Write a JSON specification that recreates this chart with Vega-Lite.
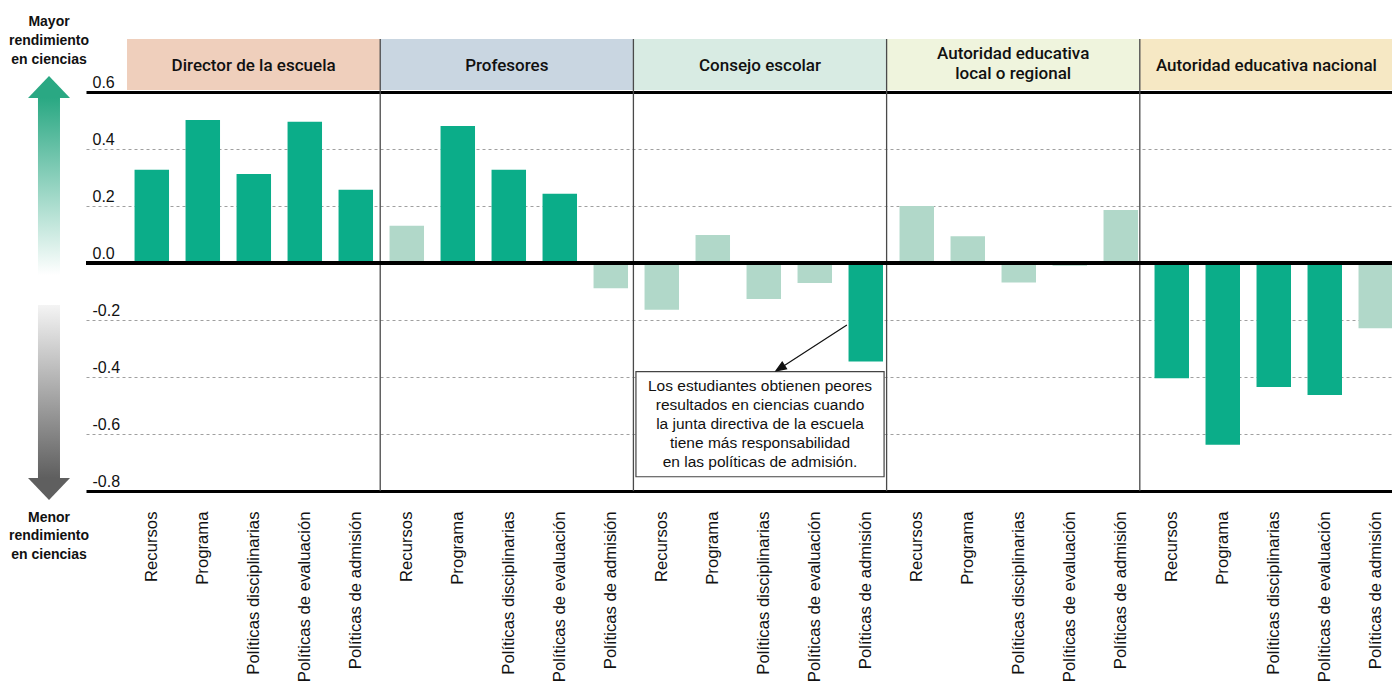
{
  "$schema": "https://vega.github.io/schema/vega-lite/v6.json",
  "autosize": {"type": "pad"},
  "padding": {"left": 1, "top": 14, "right": 0, "bottom": 0},
  "background": "white",
  "config": {"view": {"stroke": null}, "font": "Liberation Sans"},
  "spacing": 0,
  "bounds": "flush",
  "resolve": {"scale": {"x": "independent", "y": "independent"}},
  "hconcat": [
    {
      "width": 85,
      "height": 452,
      "data": {"values": [{"lado": "leyenda"}]},
      "layer": [
        {
          "mark": {"type": "rect", "fill": {"gradient": "linear", "x1": 0, "y1": 0, "x2": 0, "y2": 1, "stops": [{"offset": 0, "color": "#2aa883"}, {"offset": 1, "color": "#ffffff"}]}},
          "encoding": {
            "x": {"datum": 0.435, "type": "quantitative", "scale": {"domain": [0, 1]}, "axis": null},
            "x2": {"datum": 0.694},
            "y": {"datum": 0.579, "type": "quantitative", "scale": {"domain": [-0.8, 0.786], "nice": false, "zero": false}, "axis": null},
            "y2": {"datum": -0.042}
          }
        },
        {
          "mark": {"type": "point", "shape": "M-1,0L1,0L0,-1.05Z", "filled": true, "fill": "#2aa883", "opacity": 1, "strokeWidth": 0},
          "encoding": {
            "x": {"datum": 0.565, "type": "quantitative"},
            "y": {"datum": 0.579, "type": "quantitative"},
            "size": {"value": 1764}
          }
        },
        {
          "mark": {"type": "rect", "fill": {"gradient": "linear", "x1": 0, "y1": 0, "x2": 0, "y2": 1, "stops": [{"offset": 0, "color": "#f4f4f4"}, {"offset": 1, "color": "#5f5f5f"}]}},
          "encoding": {
            "x": {"datum": 0.435, "type": "quantitative"},
            "x2": {"datum": 0.694},
            "y": {"datum": -0.147, "type": "quantitative"},
            "y2": {"datum": -0.754}
          }
        },
        {
          "mark": {"type": "point", "shape": "M-1,0L1,0L0,1.05Z", "filled": true, "fill": "#5f5f5f", "opacity": 1, "strokeWidth": 0},
          "encoding": {
            "x": {"datum": 0.565, "type": "quantitative"},
            "y": {"datum": -0.754, "type": "quantitative"},
            "size": {"value": 1764}
          }
        },
        {
          "mark": {"type": "text", "font": "Liberation Sans", "fontWeight": "bold", "fontSize": 14, "lineHeight": 19, "align": "center", "baseline": "alphabetic", "color": "#111"},
          "encoding": {
            "x": {"datum": 0.565, "type": "quantitative"},
            "y": {"datum": 0.832, "type": "quantitative"},
            "text": {"value": ["Mayor", "rendimiento", "en ciencias"]}
          }
        },
        {
          "mark": {"type": "text", "font": "Liberation Sans", "fontWeight": "bold", "fontSize": 14, "lineHeight": 18.5, "align": "center", "baseline": "alphabetic", "color": "#111"},
          "encoding": {
            "x": {"datum": 0.565, "type": "quantitative"},
            "y": {"datum": -0.908, "type": "quantitative"},
            "text": {"value": ["Menor", "rendimiento", "en ciencias"]}
          }
        }
      ]
    },
    {
      "width": 1307,
      "height": 452,
      "resolve": {"scale": {"x": "independent"}},
      "layer": [
        {
          "layer": [
            {
              "data": {"values": [
                {"panel": "Director de la escuela", "label": "Director de la escuela", "lineas": 1},
                {"panel": "Profesores", "label": "Profesores", "lineas": 1},
                {"panel": "Consejo escolar", "label": "Consejo escolar", "lineas": 1},
                {"panel": "Autoridad educativa local o regional", "label": "Autoridad educativa\nlocal o regional", "lineas": 2},
                {"panel": "Autoridad educativa nacional", "label": "Autoridad educativa nacional", "lineas": 1}
              ]},
              "layer": [
                {
                  "mark": {"type": "rect"},
                  "encoding": {
                    "x": {"field": "panel", "type": "nominal", "sort": null, "scale": {"domain": ["Director de la escuela", "Profesores", "Consejo escolar", "Autoridad educativa local o regional", "Autoridad educativa nacional"], "paddingInner": 0, "paddingOuter": 0.081, "align": 1}, "axis": null},
                    "y": {"datum": 0.786, "type": "quantitative", "scale": {"domain": [-0.8, 0.786], "nice": false, "zero": false}},
                    "y2": {"datum": 0.607},
                    "fill": {"field": "panel", "type": "nominal", "scale": {"domain": ["Director de la escuela", "Profesores", "Consejo escolar", "Autoridad educativa local o regional", "Autoridad educativa nacional"], "range": ["#efcfbc", "#c9d6e1", "#d8ebe3", "#eff4dd", "#f6e8c4"]}, "legend": null}
                  }
                },
                {
                  "transform": [{"filter": "datum.lineas == 1"}],
                  "mark": {"type": "text", "font": "Roboto", "fontWeight": 500, "fontSize": 17, "color": "#111", "align": "center", "baseline": "middle"},
                  "encoding": {
                    "x": {"field": "panel", "type": "nominal"},
                    "y": {"datum": 0.693, "type": "quantitative"},
                    "text": {"field": "label"}
                  }
                },
                {
                  "transform": [{"filter": "datum.lineas == 2"}],
                  "mark": {"type": "text", "font": "Roboto", "fontWeight": 500, "fontSize": 17, "lineHeight": 19.7, "color": "#111", "lineBreak": "\n", "align": "center", "baseline": "middle"},
                  "encoding": {
                    "x": {"field": "panel", "type": "nominal"},
                    "y": {"datum": 0.7334, "type": "quantitative"},
                    "text": {"field": "label"}
                  }
                },
                {
                  "transform": [{"filter": "datum.panel !== 'Director de la escuela'"}],
                  "mark": {"type": "rule", "color": "#4a4a4a", "strokeWidth": 1.3},
                  "encoding": {
                    "x": {"field": "panel", "type": "nominal", "bandPosition": 0},
                    "y": {"datum": 0.786, "type": "quantitative"},
                    "y2": {"datum": -0.8}
                  }
                }
              ]
            },
            {
              "data": {"values": [
                {"panel": "Consejo escolar", "nota": ["Los estudiantes obtienen peores", "resultados en ciencias cuando", "la junta directiva de la escuela", "tiene más responsabilidad", "en las políticas de admisión."]}
              ]},
              "layer": [
                {
                  "mark": {"type": "rect", "fill": "white", "stroke": "#444", "strokeWidth": 1.2, "width": {"band": 0.98}},
                  "encoding": {
                    "x": {"field": "panel", "type": "nominal"},
                    "y": {"datum": -0.381, "type": "quantitative"},
                    "y2": {"datum": -0.75}
                  }
                },
                {
                  "mark": {"type": "text", "font": "Liberation Sans", "fontSize": 15.5, "lineHeight": 19, "color": "#111", "align": "center", "baseline": "middle"},
                  "encoding": {
                    "x": {"field": "panel", "type": "nominal"},
                    "y": {"datum": -0.4316, "type": "quantitative"},
                    "text": {"field": "nota"}
                  }
                },
                {
                  "mark": {"type": "point", "shape": "M0.986,-0.639L-0.986,0.639M-0.986,0.639L-0.691,0.579L-0.811,0.395Z", "filled": true, "fill": "#111", "stroke": "#111", "strokeWidth": 1.2, "opacity": 1},
                  "encoding": {
                    "x": {"field": "panel", "type": "nominal", "bandPosition": 0.703},
                    "y": {"datum": -0.298, "type": "quantitative"},
                    "size": {"value": 5184}
                  }
                }
              ]
            }
          ]
        },
        {
          "data": {"values": [
            {"clave": "Director de la escuela|Recursos", "responsable": "Director de la escuela", "area": "Recursos", "valor": 0.327, "significativo": "sí"},
            {"clave": "Director de la escuela|Programa", "responsable": "Director de la escuela", "area": "Programa", "valor": 0.502, "significativo": "sí"},
            {"clave": "Director de la escuela|Políticas disciplinarias", "responsable": "Director de la escuela", "area": "Políticas disciplinarias", "valor": 0.312, "significativo": "sí"},
            {"clave": "Director de la escuela|Políticas de evaluación", "responsable": "Director de la escuela", "area": "Políticas de evaluación", "valor": 0.496, "significativo": "sí"},
            {"clave": "Director de la escuela|Políticas de admisión", "responsable": "Director de la escuela", "area": "Políticas de admisión", "valor": 0.257, "significativo": "sí"},
            {"clave": "Profesores|Recursos", "responsable": "Profesores", "area": "Recursos", "valor": 0.131, "significativo": "no"},
            {"clave": "Profesores|Programa", "responsable": "Profesores", "area": "Programa", "valor": 0.481, "significativo": "sí"},
            {"clave": "Profesores|Políticas disciplinarias", "responsable": "Profesores", "area": "Políticas disciplinarias", "valor": 0.327, "significativo": "sí"},
            {"clave": "Profesores|Políticas de evaluación", "responsable": "Profesores", "area": "Políticas de evaluación", "valor": 0.243, "significativo": "sí"},
            {"clave": "Profesores|Políticas de admisión", "responsable": "Profesores", "area": "Políticas de admisión", "valor": -0.089, "significativo": "no"},
            {"clave": "Consejo escolar|Recursos", "responsable": "Consejo escolar", "area": "Recursos", "valor": -0.164, "significativo": "no"},
            {"clave": "Consejo escolar|Programa", "responsable": "Consejo escolar", "area": "Programa", "valor": 0.098, "significativo": "no"},
            {"clave": "Consejo escolar|Políticas disciplinarias", "responsable": "Consejo escolar", "area": "Políticas disciplinarias", "valor": -0.126, "significativo": "no"},
            {"clave": "Consejo escolar|Políticas de evaluación", "responsable": "Consejo escolar", "area": "Políticas de evaluación", "valor": -0.070, "significativo": "no"},
            {"clave": "Consejo escolar|Políticas de admisión", "responsable": "Consejo escolar", "area": "Políticas de admisión", "valor": -0.346, "significativo": "sí"},
            {"clave": "Autoridad educativa local o regional|Recursos", "responsable": "Autoridad educativa local o regional", "area": "Recursos", "valor": 0.200, "significativo": "no"},
            {"clave": "Autoridad educativa local o regional|Programa", "responsable": "Autoridad educativa local o regional", "area": "Programa", "valor": 0.094, "significativo": "no"},
            {"clave": "Autoridad educativa local o regional|Políticas disciplinarias", "responsable": "Autoridad educativa local o regional", "area": "Políticas disciplinarias", "valor": -0.068, "significativo": "no"},
            {"clave": "Autoridad educativa local o regional|Políticas de evaluación", "responsable": "Autoridad educativa local o regional", "area": "Políticas de evaluación", "valor": -0.010, "significativo": "no"},
            {"clave": "Autoridad educativa local o regional|Políticas de admisión", "responsable": "Autoridad educativa local o regional", "area": "Políticas de admisión", "valor": 0.186, "significativo": "no"},
            {"clave": "Autoridad educativa nacional|Recursos", "responsable": "Autoridad educativa nacional", "area": "Recursos", "valor": -0.404, "significativo": "sí"},
            {"clave": "Autoridad educativa nacional|Programa", "responsable": "Autoridad educativa nacional", "area": "Programa", "valor": -0.638, "significativo": "sí"},
            {"clave": "Autoridad educativa nacional|Políticas disciplinarias", "responsable": "Autoridad educativa nacional", "area": "Políticas disciplinarias", "valor": -0.435, "significativo": "sí"},
            {"clave": "Autoridad educativa nacional|Políticas de evaluación", "responsable": "Autoridad educativa nacional", "area": "Políticas de evaluación", "valor": -0.463, "significativo": "sí"},
            {"clave": "Autoridad educativa nacional|Políticas de admisión", "responsable": "Autoridad educativa nacional", "area": "Políticas de admisión", "valor": -0.229, "significativo": "no"}
          ]},
          "layer": [
            {
              "mark": {"type": "bar"},
              "encoding": {
                "x": {
                  "field": "clave", "type": "nominal", "sort": null,
                  "scale": {"paddingInner": 0.324, "paddingOuter": 0.476, "align": 1},
                  "axis": {"orient": "bottom", "title": null, "labelExpr": "split(datum.label, '|')[1]", "labelAngle": -90, "labelAlign": "right", "labelBaseline": "middle", "labelPadding": 20, "ticks": false, "domain": false, "labelFontSize": 16.7, "labelFont": "Liberation Sans", "labelColor": "#111", "labelOverlap": false, "labelLimit": 0}
                },
                "y": {
                  "field": "valor", "type": "quantitative",
                  "scale": {"domain": [-0.8, 0.786], "nice": false, "zero": false},
                  "axis": {
                    "title": null,
                    "values": [-0.8, -0.6, -0.4, -0.2, 0, 0.2, 0.4, 0.6],
                    "labelExpr": "replace(format(datum.value, '.1f'), '−', '-')",
                    "domain": false, "ticks": false,
                    "labelAlign": "left", "labelBaseline": "alphabetic", "labelPadding": -6, "labelOffset": -5,
                    "labelFontSize": 16, "labelFont": "Liberation Sans", "labelColor": "#111",
                    "grid": true,
                    "gridColor": {"condition": {"test": "datum.value == 0.6 || datum.value == 0 || datum.value == -0.8", "value": "#000000"}, "value": "#a0a0a0"},
                    "gridWidth": {"condition": {"test": "datum.value == 0.6 || datum.value == 0 || datum.value == -0.8", "value": 3}, "value": 1},
                    "gridDash": {"condition": {"test": "datum.value == 0.6 || datum.value == 0 || datum.value == -0.8", "value": []}, "value": [3, 3]},
                    "gridOpacity": 1
                  }
                },
                "y2": {"datum": 0},
                "color": {"field": "significativo", "type": "nominal", "scale": {"domain": ["sí", "no"], "range": ["#0bad89", "#b1d8c9"]}, "legend": null}
              }
            },
            {
              "mark": {"type": "rule", "color": "#000000", "strokeWidth": 3},
              "encoding": {"y": {"datum": 0, "type": "quantitative"}}
            }
          ]
        }
      ]
    }
  ]
}
